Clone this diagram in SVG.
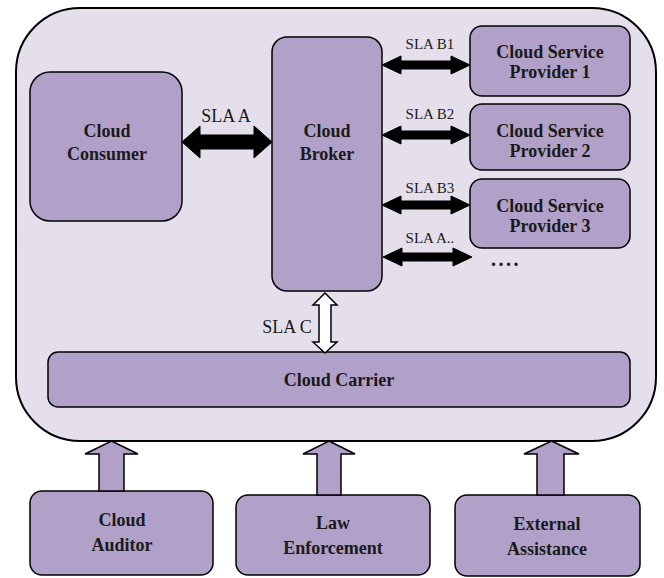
<svg xmlns="http://www.w3.org/2000/svg" width="664" height="578" viewBox="0 0 664 578">
<style>
.box{fill:#b1a1c8;stroke:#000;stroke-width:1.5}
.outer{fill:#e4dfeb;stroke:#000;stroke-width:2}
.t{font-family:"Liberation Serif","Times New Roman",Times,serif;font-weight:bold;font-size:18px;fill:#1a1a1a;text-anchor:middle}
.l{font-family:"Liberation Serif","Times New Roman",Times,serif;font-size:15px;fill:#1a1a1a;text-anchor:middle}
.lb{font-family:"Liberation Serif","Times New Roman",Times,serif;font-size:18px;fill:#1a1a1a;text-anchor:middle}
.blk{fill:#000;stroke:#000;stroke-width:1}
.wht{fill:#fff;stroke:#000;stroke-width:1.5}
.up{fill:#b1a1c8;stroke:#000;stroke-width:1.5}
</style>
<rect class="outer" x="16" y="8" width="640" height="433" rx="64" ry="64"/>
<g id="consumer"><rect class="box" x="30" y="72" width="152" height="149" rx="20"/><text class="t" x="107" y="137">Cloud</text><text class="t" x="107" y="160">Consumer</text></g>
<g id="broker"><rect class="box" x="272" y="37" width="110" height="254" rx="15"/><text class="t" x="327" y="137">Cloud</text><text class="t" x="327" y="160">Broker</text></g>
<g id="csp1"><rect class="box" x="470" y="26" width="160" height="70" rx="12"/><text class="t" x="550" y="58">Cloud Service</text><text class="t" x="550" y="78">Provider 1</text></g>
<g id="csp2"><rect class="box" x="470" y="104" width="160" height="66" rx="12"/><text class="t" x="550" y="137">Cloud Service</text><text class="t" x="550" y="157">Provider 2</text></g>
<g id="csp3"><rect class="box" x="470" y="179" width="160" height="69" rx="12"/><text class="t" x="550" y="212">Cloud Service</text><text class="t" x="550" y="232">Provider 3</text></g>
<g id="more"><text class="t" x="506" y="266" style="font-size:20px;letter-spacing:2.5px">....</text></g>
<g id="carrier"><rect class="box" x="48" y="352" width="582" height="55" rx="10"/><text class="t" x="339" y="386">Cloud Carrier</text></g>
<g id="auditor"><rect class="box" x="30" y="491" width="183" height="84" rx="12"/><text class="t" x="122" y="526">Cloud</text><text class="t" x="122" y="551">Auditor</text></g>
<g id="law"><rect class="box" x="236" y="495" width="194" height="80" rx="12"/><text class="t" x="333" y="529">Law</text><text class="t" x="333" y="554">Enforcement</text></g>
<g id="external"><rect class="box" x="455" y="495" width="185" height="81" rx="12"/><text class="t" x="547" y="530">External</text><text class="t" x="547" y="555">Assistance</text></g>
<g id="connectors">
<path class="blk" d="M182 142 L200 126 L200 135 L254 135 L254 126 L272 142 L254 158 L254 149 L200 149 L200 158 Z"/>
<text class="lb" x="226" y="122">SLA A</text>
<path class="blk" d="M382 65 L401 56 L401 61 L451 61 L451 56 L470 65 L451 74 L451 69 L401 69 L401 74 Z"/>
<text class="l" x="430" y="49">SLA B1</text>
<path class="blk" d="M382 135 L401 126 L401 131 L451 131 L451 126 L470 135 L451 144 L451 139 L401 139 L401 144 Z"/>
<text class="l" x="430" y="119">SLA B2</text>
<path class="blk" d="M382 205 L401 196 L401 201 L451 201 L451 196 L470 205 L451 214 L451 209 L401 209 L401 214 Z"/>
<text class="l" x="430" y="193">SLA B3</text>
<path class="blk" d="M383 257 L402 248 L402 253 L453 253 L453 248 L472 257 L453 266 L453 261 L402 261 L402 266 Z"/>
<text class="l" x="430" y="243">SLA A..</text>
<path class="wht" d="M325 293 L337 305 L331 305 L331 342 L337 342 L325 353 L313 342 L319 342 L319 305 L313 305 Z"/>
<text class="lb" x="287" y="333">SLA C</text>
<path class="up" d="M111.5 441 L138 454 L124 454 L124 491 L99 491 L99 454 L85 454 Z"/>
<path class="up" d="M329 441 L355 454 L341 454 L341 495 L317 495 L317 454 L303 454 Z"/>
<path class="up" d="M551.5 441 L579 454 L564 454 L564 495 L537 495 L537 454 L524 454 Z"/>
</g>
</svg>
